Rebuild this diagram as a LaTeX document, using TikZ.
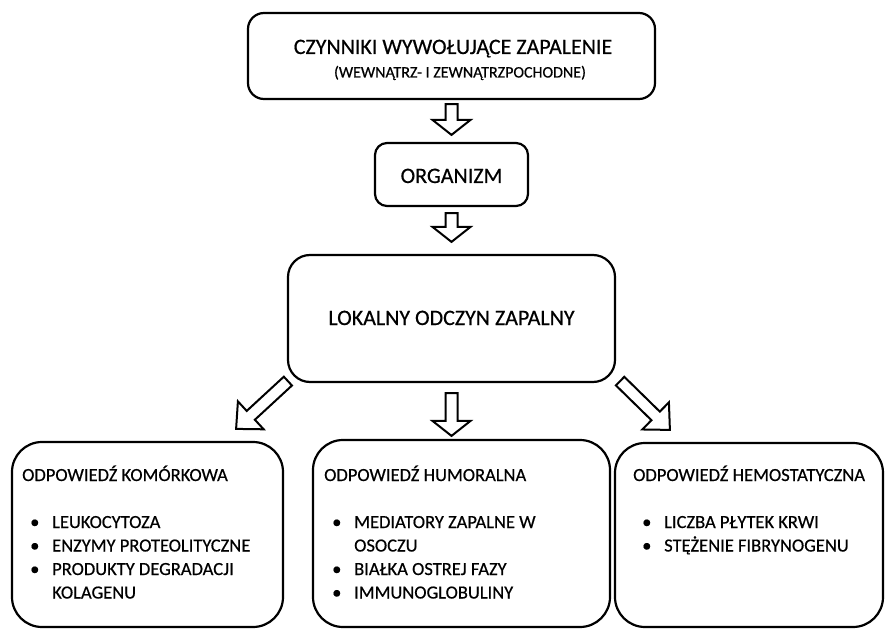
\documentclass[tikz,border=0pt]{standalone}
\usepackage{fontspec}
\setmainfont{Carlito}[UprightFeatures={FakeBold=0.5}]
\usetikzlibrary{calc}
\begin{document}
\begin{tikzpicture}[x=1pt,y=-1pt,
  box/.style={draw, line width=2.2pt, rounded corners=#1, inner sep=0pt},
  bigtext/.style={anchor=base, inner sep=0pt, font=\fontsize{22}{26}\selectfont},
  subtext/.style={anchor=base, inner sep=0pt, font=\fontsize{16}{19}\selectfont},
  listtext/.style={anchor=base west, inner sep=0pt, font=\fontsize{18.5}{23.5}\selectfont},
  blockarrow/.style={draw, line width=2pt, line join=miter,
    to path={
      ($(\tikztostart)!6pt!90:(\tikztotarget)$) --
      ($(\tikztotarget)!#1!(\tikztostart)!6pt!-90:(\tikztostart)$) --
      ($(\tikztotarget)!#1!(\tikztostart)!19pt!-90:(\tikztostart)$) --
      (\tikztotarget) --
      ($(\tikztotarget)!#1!(\tikztostart)!19pt!90:(\tikztostart)$) --
      ($(\tikztotarget)!#1!(\tikztostart)!6pt!90:(\tikztostart)$) --
      ($(\tikztostart)!6pt!-90:(\tikztotarget)$) -- cycle}},
  blockarrow/.default=15pt]
\useasboundingbox (0,0) rectangle (886,631);

% boxes
\node[box=16pt, minimum width=407pt, minimum height=86pt] (top) at (451.5,56) {};
\node[box=12pt, minimum width=153pt, minimum height=63pt] (org) at (451.5,174.5) {};
\node[box=22pt, minimum width=327pt, minimum height=127pt] (lok) at (451.5,318.5) {};
\node[box=30pt, minimum width=271pt, minimum height=185pt] (left) at (147.5,534.5) {};
\node[box=30pt, minimum width=297pt, minimum height=187pt] (mid) at (461.5,533.5) {};
\node[box=30pt, minimum width=268pt, minimum height=184pt] (right) at (749,535) {};

% texts
\node[bigtext] (toptxt) at (453,54) {CZYNNIKI WYWOŁUJĄCE ZAPALENIE};
\node[subtext] (topsub) at (460,77.5) {(WEWNĄTRZ- I ZEWNĄTRZPOCHODNE)};
\node[bigtext] (orgtxt) at (451.5,183) {ORGANIZM};
\node[bigtext] (loktxt) at (451.5,325) {LOKALNY ODCZYN ZAPALNY};

\node[listtext] (lefttxt) at (22,481) {\begin{tabular}[t]{@{}p{30pt}@{}l@{}}
\multicolumn{2}{@{}l@{}}{ODPOWIEDŹ KOMÓRKOWA}\\
\\
\hspace*{8pt}\textbullet & LEUKOCYTOZA\\
\hspace*{8pt}\textbullet & ENZYMY PROTEOLITYCZNE\\
\hspace*{8pt}\textbullet & PRODUKTY DEGRADACJI\\
 & KOLAGENU
\end{tabular}};

\node[listtext] (midtxt) at (324,481) {\begin{tabular}[t]{@{}p{30pt}@{}l@{}}
\multicolumn{2}{@{}l@{}}{ODPOWIEDŹ HUMORALNA}\\
\\
\hspace*{8pt}\textbullet & MEDIATORY ZAPALNE W\\
 & OSOCZU\\
\hspace*{8pt}\textbullet & BIAŁKA OSTREJ FAZY\\
\hspace*{8pt}\textbullet & IMMUNOGLOBULINY
\end{tabular}};

\node[listtext] (righttxt) at (633,481) {\begin{tabular}[t]{@{}p{31pt}@{}l@{}}
\multicolumn{2}{@{}l@{}}{ODPOWIEDŹ HEMOSTATYCZNA}\\
\\
\hspace*{9pt}\textbullet & LICZBA PŁYTEK KRWI\\
\hspace*{9pt}\textbullet & STĘŻENIE FIBRYNOGENU
\end{tabular}};

% arrow end points
\coordinate (a1s) at ($(top.south)+(0,4)$);
\coordinate (a1t) at ($(org.north)+(0,-7)$);
\coordinate (a2s) at ($(org.south)+(0,6)$);
\coordinate (a2t) at ($(lok.north)+(0,-12)$);
\coordinate (a3s) at ($(lok.south)+(0,10)$);
\coordinate (a3t) at ($(lok.south |- mid.north)+(0,-3)$);
\coordinate (a4s) at ($(lok.south west)+(1,-2)$);
\coordinate (a4t) at ($(left.north east)+(-48,-12)$);
\coordinate (a5s) at ($(lok.south east)+(4,-2)$);
\coordinate (a5t) at ($(right.north west)+(56,-12)$);

\draw[blockarrow] (a1s) to (a1t);
\draw[blockarrow] (a2s) to (a2t);
\draw[blockarrow] (a3s) to (a3t);
\draw[blockarrow=20pt] (a4s) to (a4t);
\draw[blockarrow=20pt] (a5s) to (a5t);
\end{tikzpicture}
\end{document}
